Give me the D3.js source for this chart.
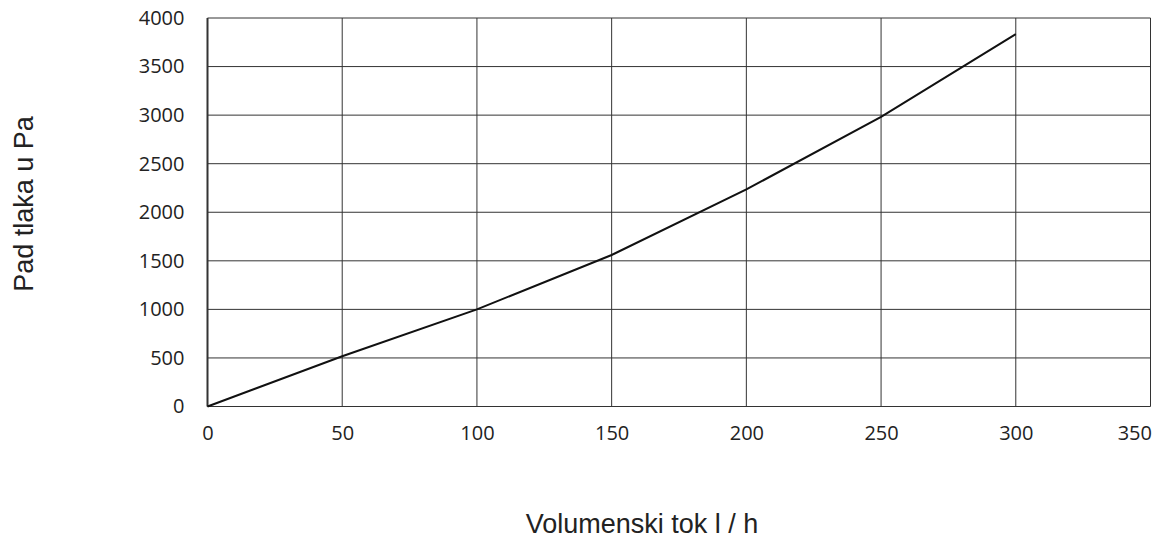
<!DOCTYPE html>
<html>
<head>
<meta charset="utf-8">
<script src="https://cdn.jsdelivr.net/npm/d3@7"></script>
<style>
  html, body { margin: 0; padding: 0; background: #fff; overflow: hidden; }
  svg { display: block; }
</style>
</head>
<body>
<svg id="chart" width="1156" height="541"></svg>
<script>
const flowValues = [0, 50, 100, 150, 200, 250, 300];
const pressureValues = [0, 517, 1000, 1560, 2235, 2982, 3835];
const xTicks = [0, 50, 100, 150, 200, 250, 300, 350];
const yTicks = [0, 500, 1000, 1500, 2000, 2500, 3000, 3500, 4000];
const xTitle = "Volumenski tok l / h";
const yTitle = "Pad tlaka u Pa";

const svg = d3.select("#chart");
const pLeft = 207.5, pRight = 1150.5, pTop = 18, pBottom = 406.5;

const x = d3.scaleLinear().domain([0, 350]).range([pLeft, pRight]);
const y = d3.scaleLinear().domain([0, 4000]).range([pBottom, pTop]);

// grid
const grid = svg.append("g");
grid.selectAll("line.v").data(xTicks).join("line").attr("class", "v")
  .attr("x1", d => x(d)).attr("x2", d => x(d))
  .attr("y1", pTop).attr("y2", pBottom)
  .attr("stroke", "#333").attr("stroke-width", 1);
grid.selectAll("line.h").data(yTicks).join("line").attr("class", "h")
  .attr("y1", d => y(d)).attr("y2", d => y(d))
  .attr("x1", pLeft).attr("x2", pRight)
  .attr("stroke", "#333").attr("stroke-width", 1);
// left axis line slightly heavier
svg.append("line").attr("x1", pLeft).attr("x2", pLeft).attr("y1", pTop).attr("y2", pBottom)
  .attr("stroke", "#333").attr("stroke-width", 2);

// axes labels via d3 axes
const yAxis = svg.append("g").attr("transform", `translate(${pLeft},0)`)
  .call(d3.axisLeft(y).tickValues(yTicks).tickSize(0).tickPadding(23).tickFormat(d3.format("d")));
const xAxis = svg.append("g").attr("transform", `translate(0,${pBottom})`)
  .call(d3.axisBottom(x).tickValues(xTicks).tickSize(0).tickPadding(19).tickFormat(d3.format("d")));
[yAxis, xAxis].forEach(a => {
  a.select(".domain").remove();
  a.selectAll("text").attr("font-family", "'Open Sans', sans-serif")
    .attr("font-size", 20).attr("fill", "#222");
});
// keep last x label inside the page
xAxis.selectAll(".tick text").filter(d => d === 350)
  .attr("text-anchor", "end").attr("x", 1);

// line
const line = d3.line().x((d, i) => x(flowValues[i])).y(d => y(d));
svg.append("path").datum(pressureValues)
  .attr("d", line).attr("fill", "none")
  .attr("stroke", "#111").attr("stroke-width", 2);

// titles
svg.append("text").attr("x", 642).attr("y", 533).attr("text-anchor", "middle")
  .attr("font-family", "'Liberation Sans', Arial, sans-serif").attr("font-size", 27)
  .attr("fill", "#222").text(xTitle);
svg.append("text").attr("transform", "translate(33,204) rotate(-90)").attr("text-anchor", "middle")
  .attr("font-family", "'Liberation Sans', Arial, sans-serif").attr("font-size", 27)
  .attr("fill", "#222").text(yTitle);
</script>
</body>
</html>
